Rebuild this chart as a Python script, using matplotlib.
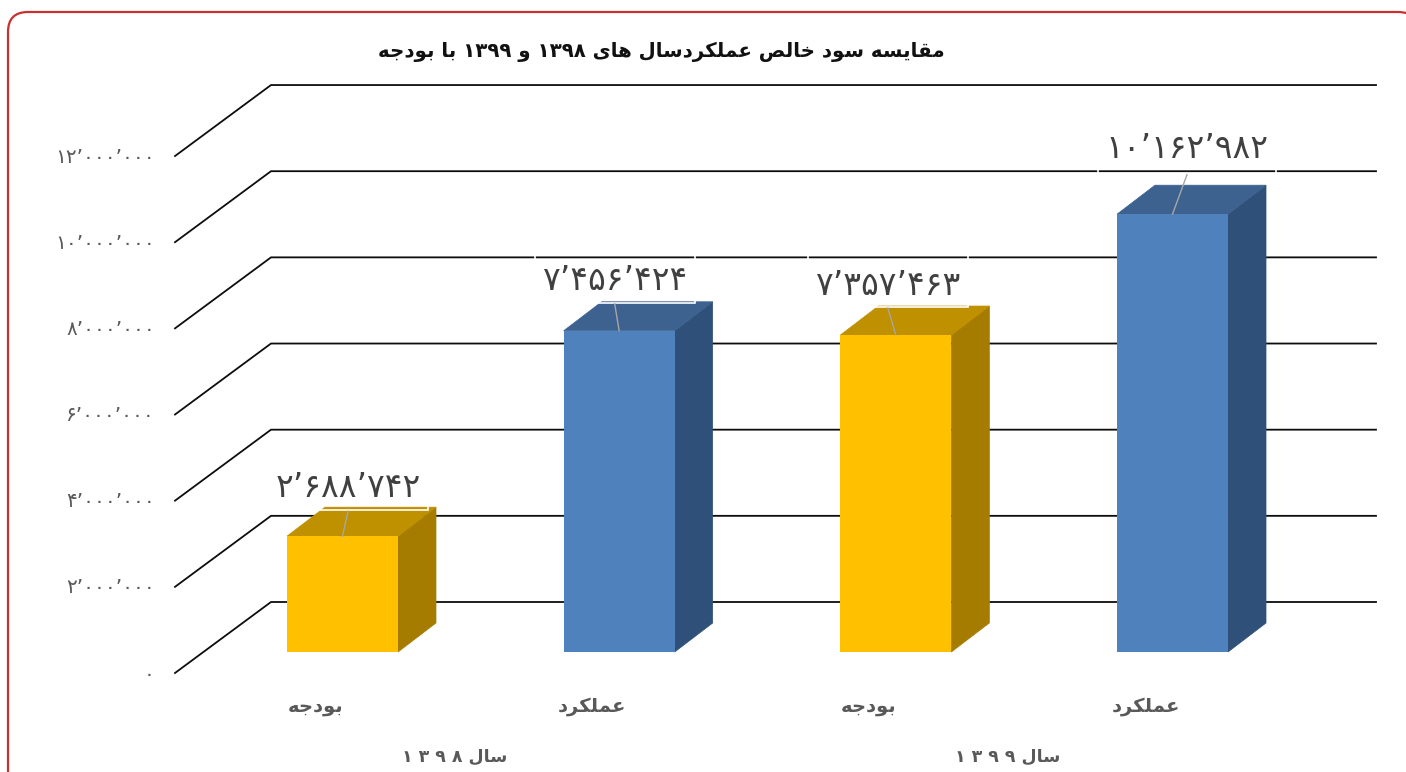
import matplotlib
matplotlib.use("Agg")
import matplotlib.pyplot as plt
from matplotlib.patches import FancyBboxPatch, Polygon, Rectangle

# kategori dan nilai (juta)
categories = ["بودجه", "عملکرد", "بودجه", "عملکرد"]
values = [2.688742, 7.456424, 7.357463, 10.162982]
value_labels = ["۲’۶۸۸’۷۴۲", "۷’۴۵۶’۴۲۴", "۷’۳۵۷’۴۶۳", "۱۰’۱۶۲’۹۸۲"]
year_labels = ["سال ۱ ۳ ۹ ۸", "سال ۱ ۳ ۹ ۹"]
title = "مقایسه سود خالص عملکردسال های ۱۳۹۸ و ۱۳۹۹ با بودجه"
y_ticks = [0, 2, 4, 6, 8, 10, 12]
y_tick_labels = ["۰", "۲’۰۰۰’۰۰۰", "۴’۰۰۰’۰۰۰", "۶’۰۰۰’۰۰۰", "۸’۰۰۰’۰۰۰", "۱۰’۰۰۰’۰۰۰", "۱۲’۰۰۰’۰۰۰"]
bar_kind = ["gold", "blue", "gold", "blue"]

colors = {"gold": ("#FFC000", "#BF9000", "#A67C00"), "blue": ("#4F81BD", "#3D6290", "#2F5078")}

# bentuk huruf arab: iso, final, initial, medial
forms = {
    "ا": "\uFE8D\uFE8E", "د": "\uFEA9\uFEAA", "ر": "\uFEAD\uFEAE", "و": "\uFEED\uFEEE",
    "ب": "\uFE8F\uFE90\uFE91\uFE92", "ج": "\uFE9D\uFE9E\uFE9F\uFEA0", "خ": "\uFEA5\uFEA6\uFEA7\uFEA8",
    "س": "\uFEB1\uFEB2\uFEB3\uFEB4", "ص": "\uFEB9\uFEBA\uFEBB\uFEBC", "ع": "\uFEC9\uFECA\uFECB\uFECC",
    "ق": "\uFED5\uFED6\uFED7\uFED8", "ل": "\uFEDD\uFEDE\uFEDF\uFEE0", "م": "\uFEE1\uFEE2\uFEE3\uFEE4",
    "ه": "\uFEE9\uFEEA\uFEEB\uFEEC", "ک": "\uFB8E\uFB8F\uFB90\uFB91", "ی": "\uFBFC\uFBFD\uFBFE\uFBFF",
}


def shape_word(w):
    if w[0] not in forms:
        return w
    out = ""
    for i, c in enumerate(w):
        f = forms[c]
        prev = i > 0 and len(forms[w[i - 1]]) == 4
        nxt = i < len(w) - 1 and len(f) == 4
        if prev and nxt:
            out += f[3]
        elif prev:
            out += f[1]
        elif nxt:
            out += f[2]
        else:
            out += f[0]
    return out[::-1]


def fa(s):
    return " ".join(shape_word(w) for w in s.split(" ")[::-1])


def year(s):
    word, digits = s.split(" ", 1)
    return digits + " " + shape_word(word)


W, H = 1406, 772
fig = plt.figure(figsize=(W / 100, H / 100), dpi=100, facecolor="white")
plt.rcParams["font.family"] = "DejaVu Sans"

# skala: 1 kategori = 276.67 px, 1 juta = 43.08 px
xs = 276.67
ys = 43.08
ax = fig.add_axes([0, 0, 1, 1])
ax.set_xlim(-342.5 / xs, (W - 342.5) / xs)
ax.set_ylim((652 - H) / ys, 652 / ys)
ax.axis("off")

back = 50 / ys      # dinding belakang
front = -21 / ys    # ujung depan garis diagonal
xl0 = (175 - 342.5) / xs
xl1 = (271 - 342.5) / xs
xr = (1376 - 342.5) / xs
for v in y_ticks:
    ax.plot([xl0, xl1, xr], [v + front, v + back, v + back], color="#0d0d0d", lw=1.3, zorder=1, solid_joinstyle="miter")

half = 55.5 / xs
dx = 38 / xs
dy = 29 / ys
for i, v in enumerate(values):
    c = colors[bar_kind[i]]
    ax.add_patch(Polygon([(i + half, 0), (i + half + dx, dy), (i + half + dx, v + dy), (i + half, v)], fc=c[2], ec=c[2], lw=0.5, zorder=2))
    ax.add_patch(Polygon([(i - half, v), (i + half, v), (i + half + dx, v + dy), (i - half + dx, v + dy)], fc=c[1], ec=c[1], lw=0.5, zorder=2))
    ax.add_patch(Rectangle((i - half, 0), 2 * half, v, fc=c[0], ec="none", zorder=3))

# kotak label data (offset piksel dari batang)
box_w = [160, 160, 160, 178]
box_dx = [5.5, -4.5, -8, 14.5]
box_dy = [26, 28, 28, 40.5]
box_h = [48, 48, 52, 48]
label_dy = [49, 50, 50, 66]
for i, v in enumerate(values):
    cx = i + box_dx[i] / xs
    bot = v + box_dy[i] / ys
    w = box_w[i] / xs
    ax.add_patch(Rectangle((cx - w / 2, bot), w, box_h[i] / ys, fc="none", ec="white", lw=1.2, zorder=4))
    ax.plot([i, cx], [v, bot - 1 / ys], color="#A6A6A6", lw=1.0, zorder=5)
    ax.text(cx, v + label_dy[i] / ys, value_labels[i], ha="center", va="center", fontsize=23.8, color="#404040", zorder=6)

# label sumbu
for v, t in zip(y_ticks, y_tick_labels):
    ax.text((155 - 342.5) / xs, v + front - 1 / ys, t, ha="right", va="center", fontsize=14.5, color="#595959")

for i, t in enumerate(categories):
    ax.text(i - 27 / xs, (652 - 707) / ys, fa(t), ha="center", va="center", fontsize=14, fontweight="bold", color="#595959")
for i, t in enumerate(year_labels):
    ax.text((454.5 + i * 553 - 342.5) / xs, (652 - 757) / ys, year(t), ha="center", va="center", fontsize=12.5, fontweight="bold", color="#595959")

ax.text((661 - 342.5) / xs, (652 - 52) / ys, fa(title), ha="center", va="center", fontsize=14.2, fontweight="bold", color="#111111")

# bingkai merah (koordinat piksel)
page = fig.add_axes([0, 0, 1, 1], facecolor="none")
page.set_xlim(0, W)
page.set_ylim(H, 0)
page.axis("off")
page.add_patch(FancyBboxPatch((28, 32), 1370, 800, boxstyle="round,pad=20,rounding_size=20", fc="none", ec="#C9302F", lw=1.6))

fig.savefig("out.png", dpi=100)
